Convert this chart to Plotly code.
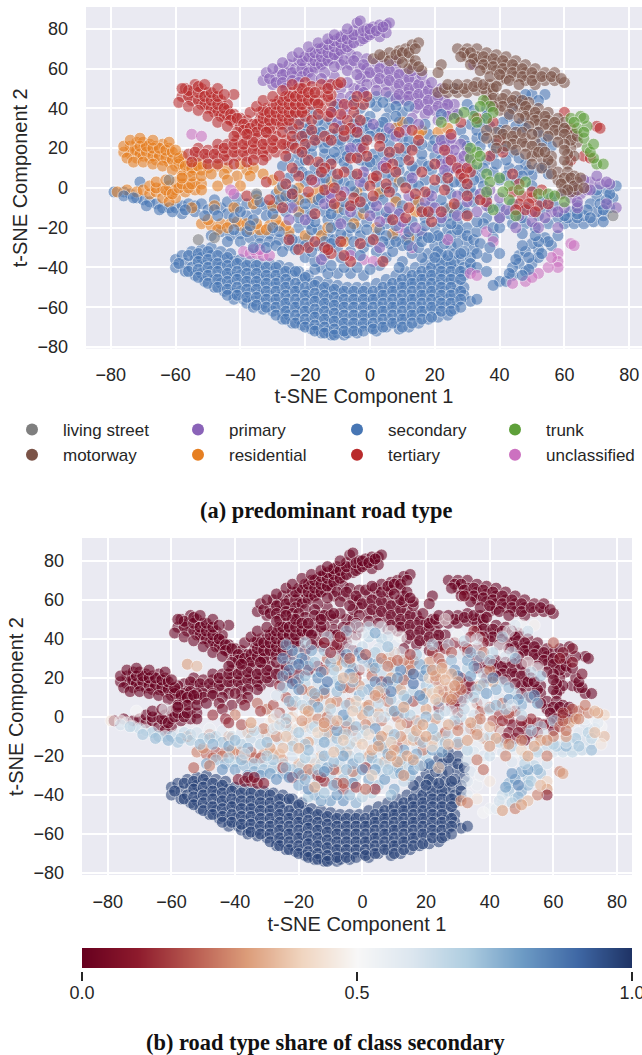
import plotly.graph_objects as go

W, H = 642, 1055
CLASS_COLORS = {"living street": "#7f7f7f", "motorway": "#7b5347", "primary": "#8a63b8", "residential": "#e67f22",
                "secondary": "#4776b4", "tertiary": "#b92b2c", "trunk": "#5ea03a", "unclassified": "#cc71c0"}
LEGEND_COLUMNS = [["living street", "motorway"], ["primary", "residential"], ["secondary", "tertiary"], ["trunk", "unclassified"]]
SHARE_SCALE = [[0, "#67001f"], [0.1, "#8d1a2c"], [0.2, "#b85a50"], [0.3, "#dc9d7a"], [0.4, "#f0d5c0"], [0.5, "#f7f7f7"],
               [0.6, "#dce6ef"], [0.7, "#aecde0"], [0.8, "#6d9bc5"], [0.9, "#3f68a5"], [1, "#1e3264"]]
CB_VALUES = [0, 0.1, 0.2, 0.3, 0.4, 0.5, 0.6, 0.7, 0.8, 0.9, 1]
CAPTIONS = ["(a) predominant road type", "(b) road type share of class secondary"]

# (x, y) of points whose share of class secondary is about 1
LOBE = [(-60,-36),(-60,-40),(-58,-34),(-57,-38),(-57,-42),(-55,-32),(-54,-36),(-55,-40),(-54,-44),(-52,-31),(-52,-35),(-51,-39),(-52,-43),(-51,-47),
(-49,-30),(-49,-34),(-48,-38),(-49,-42),(-48,-46),(-48,-50),(-46,-32),(-45,-36),(-46,-40),(-45,-44),(-46,-48),(-45,-52),(-43,-33),(-42,-37),(-43,-41),(-42,-45),(-43,-49),(-42,-53),(-42,-56),
(-40,-36),(-39,-40),(-40,-44),(-39,-48),(-40,-52),(-39,-56),(-38,-58),(-37,-37),(-36,-41),(-37,-45),(-36,-49),(-37,-53),(-36,-57),(-36,-60),(-34,-38),(-33,-42),(-34,-46),(-33,-50),(-34,-54),(-33,-58),(-33,-61),
(-31,-38),(-30,-42),(-31,-46),(-30,-50),(-31,-54),(-30,-58),(-30,-62),(-28,-39),(-27,-43),(-28,-47),(-27,-51),(-28,-55),(-27,-59),(-27,-63),(-27,-66),(-25,-40),(-24,-44),(-25,-48),(-24,-52),(-25,-56),(-24,-60),(-25,-64),(-24,-68),
(-22,-42),(-21,-46),(-22,-50),(-21,-54),(-22,-58),(-21,-62),(-22,-66),(-21,-69),(-19,-44),(-18,-48),(-19,-52),(-18,-56),(-19,-60),(-18,-64),(-19,-68),(-18,-71),(-16,-47),(-15,-51),(-16,-55),(-15,-59),(-16,-63),(-15,-67),(-16,-71),(-15,-73),
(-13,-48),(-12,-52),(-13,-56),(-12,-60),(-13,-64),(-12,-68),(-13,-72),(-12,-74),(-10,-49),(-9,-53),(-10,-57),(-9,-61),(-10,-65),(-9,-69),(-10,-73),(-8,-74),(-7,-50),(-6,-54),(-7,-58),(-6,-62),(-7,-66),(-6,-70),(-7,-73),
(-4,-50),(-3,-54),(-4,-58),(-3,-62),(-4,-66),(-3,-70),(-4,-73),(-1,-50),(0,-54),(-1,-58),(0,-62),(-1,-66),(0,-70),(2,-48),(3,-52),(2,-56),(3,-60),(2,-64),(3,-68),(2,-72),
(5,-46),(6,-50),(5,-54),(6,-58),(5,-62),(6,-66),(5,-70),(8,-44),(9,-48),(8,-52),(9,-56),(8,-60),(9,-64),(8,-68),(9,-71),(11,-42),(12,-46),(11,-50),(12,-54),(11,-58),(12,-62),(11,-66),(12,-70),
(14,-40),(15,-44),(14,-48),(15,-52),(14,-56),(15,-60),(14,-64),(15,-68),(17,-38),(18,-42),(17,-46),(18,-50),(17,-54),(18,-58),(17,-62),(18,-66),(20,-37),(21,-41),(20,-45),(21,-49),(20,-53),(21,-57),(20,-61),(21,-65),
(23,-36),(24,-40),(23,-44),(24,-48),(23,-52),(24,-56),(23,-60),(24,-64),(26,-37),(27,-41),(26,-45),(27,-49),(26,-53),(27,-57),(26,-61),(28,-36),(29,-40),(29,-44),(29,-50),(29,-54),(31,-41),(31,-57),(33,-56),
(18,-33),(20,-29),(22,-25),(24,-21),(25,-29),(28,-23),(22,-33),(26,-33),(30,-27),(32,-31),(31,-35),(19,-25),(16,-35),(27,-18),(30,-20)]

LOBE_FILL = [(-59,-38),(-56,-34),(-56,-42),(-53,-33),(-53,-37),(-53,-41),(-53,-45),(-50,-32),(-50,-36),(-50,-40),(-50,-44),(-50,-48),(-47,-34),(-47,-38),(-47,-42),(-47,-46),(-47,-50),
(-44,-35),(-44,-39),(-44,-43),(-44,-47),(-44,-51),(-44,-54),(-41,-38),(-41,-42),(-41,-46),(-41,-50),(-41,-54),(-38,-39),(-38,-43),(-38,-47),(-38,-51),(-38,-55),(-35,-39),(-35,-43),(-35,-47),(-35,-51),(-35,-55),(-35,-59),
(-32,-40),(-32,-44),(-32,-48),(-32,-52),(-32,-56),(-32,-60),(-29,-40),(-29,-44),(-29,-48),(-29,-52),(-29,-56),(-29,-60),(-29,-64),(-26,-42),(-26,-46),(-26,-50),(-26,-54),(-26,-58),(-26,-62),(-26,-66),
(-23,-42),(-23,-48),(-23,-52),(-23,-56),(-23,-60),(-23,-64),(-23,-68),(-20,-45),(-20,-50),(-20,-54),(-20,-58),(-20,-62),(-20,-66),(-20,-70),(-17,-49),(-17,-53),(-17,-57),(-17,-61),(-17,-65),(-17,-69),(-17,-72),
(-14,-50),(-14,-54),(-14,-58),(-14,-62),(-14,-66),(-14,-70),(-14,-73),(-11,-51),(-11,-55),(-11,-59),(-11,-63),(-11,-67),(-11,-71),(-11,-74),(-8,-52),(-8,-56),(-8,-60),(-8,-64),(-8,-68),(-8,-72),
(-5,-52),(-5,-56),(-5,-60),(-5,-64),(-5,-68),(-5,-72),(-2,-52),(-2,-56),(-2,-60),(-2,-64),(-2,-68),(-2,-72),(1,-52),(1,-56),(1,-60),(1,-64),(1,-68),(1,-71),(4,-50),(4,-54),(4,-58),(4,-62),(4,-66),(4,-70),
(7,-48),(7,-52),(7,-56),(7,-60),(7,-64),(7,-68),(10,-46),(10,-50),(10,-54),(10,-58),(10,-62),(10,-66),(10,-70),(13,-44),(13,-48),(13,-52),(13,-56),(13,-60),(13,-64),(13,-68),(16,-42),(16,-46),(16,-50),(16,-54),(16,-58),(16,-62),(16,-66),
(19,-40),(19,-44),(19,-48),(19,-52),(19,-56),(19,-60),(19,-65),(22,-38),(22,-42),(22,-46),(22,-50),(22,-54),(22,-58),(22,-62),(25,-38),(25,-42),(25,-46),(25,-50),(25,-54),(25,-58),(25,-62),(28,-42),(28,-46),(28,-52),(28,-56),(28,-60),
(21,-32),(23,-28),(25,-24),(27,-28),(29,-32),(30,-24),(24,-34),(20,-35),(27,-21),(32,-26),(31,-38),(28,-33)]

PRIMARY_PURE = [(-33,54),(-32,58),(-30,52),(-29,56),(-28,60),(-26,54),(-26,58),(-25,62),(-23,56),(-23,60),(-22,64),(-20,58),(-20,62),(-20,66),(-18,60),(-18,64),(-18,68),(-16,62),(-16,66),(-16,70),(-14,63),(-14,67),(-14,71),(-12,65),(-12,69),(-12,73),(-10,68),(-10,72),(-10,75),(-8,70),(-8,74),(-8,77),(-6,72),(-6,76),(-5,79),(-3,74),(-3,78),(-4,83),(-3,84),(-1,76),(-1,80),(1,78),(1,81),(3,76),(3,80),(3,82),(5,82),(6,83),(5,78),
(-10,66),(-9,62),(-6,67),(-6,62),(-4,66),(-3,60),(-1,65),(-1,60),(-1,56),(2,63),(2,58),(2,53),(5,62),(5,57),(5,52),(8,60),(8,55),(8,50),(11,58),(11,53),(11,48),(14,55),(14,50),(14,45),(17,52),(17,47),(17,42),(20,48),(20,44),(20,39),(23,44),(23,40),(25,37),(26,42),(11,44),(14,40),(8,45),(-13,52),(-9,50),(-9,45),(-5,50),(17,37),(21,34),(13,35),
(-31,55),(-29,53),(-27,57),(-27,53),(-24,58),(-24,54),(-21,60),(-21,56),(-21,64),(-19,58),(-19,66),(-17,60),(-17,64),(-17,68),(-15,62),(-15,66),(-15,70),(-13,64),(-13,68),(-13,72),(-11,67),(-11,71),(-11,74),(-9,69),(-9,73),(-9,76),(-7,71),(-7,75),(-5,73),(-5,77),(-2,75),(-2,79),(0,77),(0,80),(2,79),(4,81),(-8,64),(-5,64),(-2,62),(0,58),(3,60),(3,55),(6,59),(6,54),(9,57),(9,52),(9,47),(12,55),(12,50),(12,46),(15,52),(15,47),(15,42),(18,49),(18,44),(18,39),(21,46),(21,41),(24,42),(-3,50),(-11,56),(-7,53),(-3,55),
(-30,60),(-27,63),(-24,66),(-22,68),(-19,71),(-16,73),(-13,75),(-11,77),(-26,50),(-22,53),(-18,55),(-14,58),(-11,61),(-7,59),(-4,57),(-1,52),(2,49),(5,48),(-15,55),(-6,46),(-10,42),(-2,48),(16,57),(19,53),(22,50),(13,59),(8,64),(-7,80),(24,36),(27,37)]

MOTORWAY_PURE = [(1,65),(4,66),(6,68),(9,69),(11,70),(13,72),(15,73),(6,64),(9,65),(12,66),(13,62),(16,59),(12,60),
(27,70),(30,70),(30,66),(33,70),(33,66),(33,63),(36,68),(36,64),(36,60),(39,67),(39,63),(39,59),(42,66),(42,62),(42,58),(45,64),(45,60),(45,56),(48,62),(48,58),(48,54),(51,60),(51,56),(54,58),(54,54),(57,54),(57,58),(60,53),(51,52),
(21,48),(24,48),(27,48),(30,48),(33,49),(35,50),(37,52),(40,54),(42,55),(33,53),(30,52),(36,48),(22,62),(21,58),
(36,44),(38,47),(40,43),(40,39),(42,47),(43,43),(45,46),(46,42),(47,38),(49,43),(49,39),(50,35),(52,40),(52,36),(52,32),(55,38),(55,34),(55,30),(58,35),(58,31),(58,27),(60,33),(61,29),(61,25),(63,27),(64,23),(62,20),(63,16),(61,12),
(39,28),(42,29),(42,25),(45,28),(45,24),(48,25),(48,21),(51,23),(51,18),(53,20),(53,15),(56,16),(56,12),(58,8),(61,8),(63,6),(58,4),(61,3),(64,3),(60,0),(62,-2),(64,-1),(36,29),
(3,67),(8,67),(10,68),(12,68),(14,70),(10,63),(14,64),(15,61),(29,68),(31,68),(32,65),(35,66),(35,62),(38,65),(38,61),(41,64),(41,60),(44,62),(44,58),(47,60),(47,56),(50,58),(50,54),(53,56),(56,56),(59,55),
(23,50),(26,50),(29,50),(32,51),(35,52),(38,50),(38,45),(41,45),(41,41),(44,44),(44,40),(47,44),(48,41),(48,36),(51,38),(51,34),(54,36),(54,32),(57,33),(57,29),(60,30),(60,27),(62,24),(64,26),(60,22),(61,17),(60,14),
(41,27),(44,26),(44,22),(47,23),(50,21),(50,16),(52,18),(55,14),(54,18),(60,5),(62,5),(59,2),(63,1),(61,-1),
(28,66),(31,62),(34,59),(37,56),(40,57),(43,54),(46,52),(24,52),(27,52),(39,51),(38,41),(43,37),(46,35),(49,31),(52,28),(55,26),(58,23),(60,19),(47,28),(50,27),(39,24),(42,21),(45,19),(48,17),(50,12),(53,10),(56,7),(59,-3),(65,5),(66,0),(36,25),(39,20)]

TERTIARY_PURE = [(-58,46),(-57,50),(-55,44),(-55,48),(-54,52),(-52,42),(-52,46),(-52,50),(-50,40),(-50,44),(-50,48),(-48,38),(-48,42),(-48,46),(-46,36),(-46,40),(-46,44),(-44,35),(-44,39),(-44,42),(-42,33),(-42,37),(-40,31),(-40,35),(-38,30),(-38,34),(-38,27),(-36,28),(-36,32),(-42,47),
(-34,30),(-34,34),(-34,38),(-32,28),(-32,32),(-32,36),(-32,40),(-30,30),(-30,34),(-30,38),(-30,42),(-28,32),(-28,36),(-28,40),(-28,44),(-26,34),(-26,38),(-26,42),(-26,46),(-24,30),(-24,36),(-24,40),(-24,44),(-24,48),(-22,32),(-22,38),(-22,42),(-22,46),(-22,50),(-20,36),(-20,40),(-20,44),(-20,48),(-20,53),(-18,34),(-18,42),(-18,46),(-18,51),(-15,40),(-15,44),(-15,48),(-15,52),(-12,43),(-12,47),(-12,52),(-10,52),(-9,53),(-8,42),(-5,38),(-2,42),(-3,34),(-7,34),(-6,30),
(-56,17),(-53,16),(-53,20),(-50,15),(-50,19),(-47,15),(-47,19),(-47,22),(-44,14),(-44,18),(-44,22),(-41,16),(-41,20),(-41,24),(-38,16),(-38,20),(-38,24),(-35,17),(-35,21),(-35,25),(-32,16),(-32,20),(-32,24),(-29,18),(-29,22),(-29,26),(-26,20),(-26,24),(70,31),(71,30),(62,14),(66,16),(68,15),
(-56,46),(-56,49),(-53,44),(-53,48),(-53,51),(-51,42),(-51,46),(-49,40),(-49,44),(-49,48),(-47,38),(-47,42),(-47,46),(-45,36),(-45,40),(-43,37),(-43,34),(-41,35),(-39,32),(-39,29),(-37,30),(-35,32),(-35,28),(-33,31),(-33,35),(-33,39),(-31,30),(-31,34),(-31,38),(-29,34),(-29,38),(-29,42),(-27,32),(-27,36),(-27,40),(-27,44),(-25,34),(-25,38),(-25,42),(-25,46),(-23,38),(-23,42),(-23,46),(-21,38),(-21,42),(-21,46),(-21,50),(-19,44),(-19,48),(-17,44),(-17,48),(-16,42),(-13,46),(-13,50),
(-54,18),(-51,17),(-48,17),(-45,16),(-45,20),(-42,18),(-42,22),(-39,18),(-39,22),(-36,19),(-36,23),(-33,18),(-33,22),(-30,20),(-30,24),(-27,22),(-33,14),(-27,28),
(-59,43),(-56,41),(-53,39),(-50,36),(-47,33),(-44,31),(-41,28),(-58,50),(-51,52),(-47,50),(-45,47),(-37,38),(-35,41),(-33,44),(-30,46),(-27,49),(-24,52),(-55,13),(-50,12),(-47,12),(-42,12),(-38,13),(-36,14),(-42,26),(-38,27),(-32,28),(-24,22),(-24,26),(-21,26),(-18,29),(-13,36),(-9,37),(-16,37),(-12,38),(-5,42),(-1,46),(-4,46)]

RESIDENTIAL_PURE = [(-74,17),(-74,21),(-72,15),(-72,19),(-72,23),(-70,16),(-70,20),(-70,23),(-68,15),(-68,19),(-68,22),(-66,14),(-66,18),(-66,21),(-64,14),(-64,18),(-64,22),(-62,13),(-62,17),(-62,20),(-60,11),(-60,15),(-58,9),(-58,13),(-58,16),(-56,8),(-56,12),(-54,9),(-54,13),(-52,9),(-52,12),(-50,10),(-47,11),(-44,10),
(-75,-1),(-72,-2),(-70,-1),(-68,-3),(-68,1),(-66,-2),(-64,-5),(-64,0),(-62,-3),(-62,1),(-60,-5),(-60,-1),(-60,3),(-57,-2),(-57,2),(-54,-1),(-54,3),(-62,-7),
(-73,19),(-71,17),(-71,21),(-69,18),(-69,21),(-67,16),(-67,20),(-65,16),(-65,20),(-63,15),(-63,19),(-61,14),(-61,18),(-59,12),(-59,15),(-57,11),(-55,10),(-53,11),(-66,0),(-63,-1),(-61,-3),(-59,0),(-58,2),(-56,0),(-55,2),(-52,2),
(-76,18),(-75,15),(-73,13),(-70,13),(-67,12),(-64,11),(-61,9),(-58,6),(-55,6),(-52,6),(-49,7),(-76,21),(-74,24),(-71,25),(-67,24),(-62,23),(-60,19),(-78,-2),(-66,3),(-63,4),(-58,5),(-52,-1)]

TRUNK_PURE = [(70,12),(72,12),(69,15),(67,20),(68,18),(66,25),(64,30),(62,35),(65,36),(67,31)]

# (x, y, share in percent)
SECONDARY_MIX = [(-79,-2,45),(-76,-2,50),(-74,-3,55),(-72,-5,60),(-70,-6,65),(-68,-7,60),(-66,-8,70),(-64,-10,70),(-62,-10,65),(-60,-10,72),(-58,-9,60),(-56,-8,65),(-54,-9,68),(-58,-13,72),(-54,-12,70),(-71,3,50),
(-52,-8,62),(-50,-11,68),(-48,-6,55),(-46,-10,70),(-44,-13,72),(-44,-7,58),(-41,-5,52),(-41,-10,64),(-38,-14,70),(-38,-8,60),(-35,-4,50),(-35,-11,66),(-32,-9,62),(-32,-14,68),(-29,-3,48),(-29,-10,58),(-26,-12,64),(-26,-7,55),(-23,-2,50),(-23,-9,60),(-20,-12,62),(-20,-5,52),(-17,-9,58),(-14,-3,50),(-14,-12,65),
(-46,-22,72),(-43,-24,76),(-40,-23,70),(-40,-27,80),(-37,-25,74),(-34,-24,72),(-34,-28,78),(-31,-23,68),(-31,-27,74),(-28,-26,72),(-25,-24,66),(-25,-29,78),(-22,-20,62),(-22,-27,72),(-19,-18,58),(-19,-25,66),(-16,-21,62),(-16,-29,74),(-13,-16,60),(-13,-24,65),(-10,-19,60),(-10,-14,62),(-7,-16,70),(-7,-24,66),(-4,-14,68),(-4,-20,66),(-1,-17,60),(2,-13,58),(2,-24,64),(5,-18,62),(8,-24,66),(11,-20,60),(14,-25,68),(17,-15,62),(20,-20,70),(24,-14,66),
(-15,-40,78),(-10,-43,80),(-6,-43,82),(-2,-44,76),(-17,-41,70),(-13,-43,78),(3,-39,70),(5,-35,72),(10,-37,78),(13,-33,66),(2,-32,78),(-2,-30,70),(6,-28,64),(10,-29,70),(-6,-32,72),(-10,-30,68),(-14,-34,70),(33,-22,62),(34,-28,60),(36,-35,55),(33,-40,58),(36,-15,55),(38,-25,50),(35,-18,60),
(-2,47,62),(2,46,66),(6,46,60),(9,44,55),(-3,40,55),(2,41,68),(6,40,70),(10,38,58),(-4,35,60),(0,36,65),(5,35,62),(9,33,58),(-2,30,55),(3,31,60),(-20,33,72),(-22,28,75),(-17,29,68),(-14,32,60),(-20,24,66),(-16,23,70),(-12,27,62),(-10,22,60),(-18,17,68),(-14,17,62),(-10,15,58),(-6,19,64),(-6,25,58),(-2,23,62),(-22,12,60),(-17,10,64),(-12,8,60),(-7,10,56),(-3,14,58),(1,17,60),(2,9,56),(6,22,66),(10,25,70),(14,21,75),(18,27,78),(11,16,72),(16,13,68),(20,16,72),(7,5,60),(12,6,62),(17,4,58),(22,5,56),(-25,5,55),(-20,3,52),(-14,2,56),(-8,3,58),(-2,1,54),(3,-3,56),(8,-5,52),(14,-6,58),(19,-8,52),(25,-3,56),(29,-10,52),(32,-3,56),
(27,37,64),(31,32,60),(36,36,58),(43,36,55),(47,33,66),(33,25,68),(38,22,64),(44,18,70),(48,12,68),(52,10,72),(43,10,60),(38,8,58),(34,5,50),(55,25,55),(52,28,50),(46,44,56),(50,47,52),(54,47,48),(30,42,52),(26,50,50),(36,40,58),
(60,-18,62),(63,-18,65),(66,-18,68),(69,-17,65),(72,-14,62),(74,-10,58),(75,-5,50),(73,-1,55),(70,-4,60),(68,-8,60),(70,-12,62),(66,-14,62),(76,1,40),(62,-12,55),(40,-15,56),(44,-18,60),(48,-18,55),(52,-14,60),(54,-10,62),(56,-5,68),(48,-10,50),(44,-8,55),
(54,-25,68),(58,-24,62),(56,-29,72),(52,-31,72),(50,-28,78),(46,-34,75),(46,-38,72),(48,-42,68),(44,-44,60),(50,-38,78),(52,-35,75),(48,-32,80),(44,-40,65),(40,-47,55),(38,-49,50),(42,-47,58)]

SECONDARY_FILL = [(-76,-4,62),(-73,-5,68),(-69,-9,72),(-65,-11,74),(-61,-12,76),(-57,-11,72),(-51,-14,74),(-48,-11,70),(-47,-14,76),(-42,-15,78),(-40,-12,74),(-36,-16,76),(-34,-7,66),(-30,-13,74),(-28,-6,62),(-24,-5,66),(-22,-15,70),(-18,-14,72),(-16,-6,62),(-12,-9,68),(-8,-11,74),(-5,-9,70),(0,-10,66),
(-49,-24,78),(-44,-27,82),(-38,-22,74),(-36,-30,84),(-32,-30,82),(-29,-29,80),(-28,-22,72),(-24,-26,74),(-23,-31,84),(-20,-29,80),(-18,-21,70),(-14,-27,72),(-12,-20,76),(-11,-26,78),(-9,-23,74),(-6,-20,80),(-3,-24,78),(-1,-21,72),(0,-27,82),(3,-21,76),(5,-24,70),(6,-15,74),(8,-19,78),(9,-12,66),(11,-26,76),(13,-17,80),(16,-23,82),(17,-19,78),(19,-13,72),(21,-24,84),(22,-17,80),(23,-10,70),(26,-13,72),
(-20,-35,78),(-17,-37,84),(-12,-39,72),(-8,-40,80),(-4,-40,74),(0,-41,68),(-9,-35,78),(-3,-34,84),(7,-32,80),(9,-40,72),(12,-29,78),(15,-30,74),(16,-27,80),(33,-33,60),(37,-30,55),(36,-42,45),(38,-20,60),(33,-17,68),(30,-13,72),(40,-33,45),(37,-10,60),
(-22,34,82),(-19,30,85),(-16,34,78),(-23,24,84),(-20,19,80),(-17,26,80),(-14,20,84),(-12,34,72),(-10,28,78),(-8,19,70),(-5,28,74),(-3,25,76),(-1,33,80),(2,28,82),(5,28,78),(-25,15,72),(-21,8,70),(-16,6,72),(-12,14,84),(-8,13,74),(-5,6,72),(-1,11,78),(2,14,80),(4,18,84),(8,18,88),(12,24,86),(16,17,90),(19,21,84),(14,9,80),(19,9,78),(9,9,72),(5,7,66),(-10,-1,66),(-5,-2,72),(1,-7,70),(7,0,66),(13,2,74),(18,-3,66),(24,1,72),(28,3,60),(31,0,66),
(28,29,74),(33,29,78),(37,31,72),(41,33,68),(45,31,60),(29,24,82),(34,21,80),(38,17,72),(42,14,76),(46,9,82),(50,6,76),(40,4,70),(35,1,62),(32,9,66),(36,14,72),(48,30,74),(54,11,84),(55,7,78),(45,4,72),(50,1,66),(53,-7,72),(40,-10,66),
(61,-15,72),(64,-15,76),(67,-11,72),(71,-8,70),(73,-6,62),(72,-17,74),(64,-9,60),(58,-15,66),(55,-18,70),(51,-20,64),(47,-15,70),(43,-13,66),
(55,-27,76),(52,-27,80),(49,-35,85),(47,-29,82),(45,-36,80),(49,-41,75),(47,-44,68),(53,-33,70),(43,-43,62),
(-24,37,78),(-18,38,70),(-11,41,66),(-5,44,72),(0,43,58),(4,43,78),(8,41,62),(12,41,52),(-25,30,82),(-20,27,86),(-15,28,72),(-9,31,64),(-5,32,80),(0,30,84),(4,33,70),(8,36,74),(12,33,60),(17,32,72),(22,37,68),
(-25,21,78),(-22,17,88),(-18,21,74),(-13,23,82),(-9,24,70),(-4,22,84),(0,26,60),(4,25,76),(7,27,66),(11,20,82),(16,22,92),(20,24,80),(23,24,70),(-27,11,60),(-23,8,74),(-20,14,82),(-15,12,76),(-11,18,88),(-7,16,80),(-3,18,74),(0,13,66),(6,15,74),(9,13,86),(13,11,70),(18,11,84),(22,14,66),(24,8,74),
(-27,1,58),(-24,-1,70),(-19,6,66),(-14,5,78),(-10,4,68),(-6,1,82),(-2,5,70),(2,3,74),(5,0,62),(10,3,80),(15,1,68),(20,0,76),(26,3,64),(29,-2,70),(-26,-4,64),(-20,-8,72),(-15,-5,68),(-8,-7,80),(-2,-5,74),(4,-6,82),(10,-9,74),(16,-10,68),(22,-6,74),(27,-9,66),(32,-7,58),
(-17,-17,74),(-12,-13,78),(-2,-10,62),(5,-12,80),(12,-22,74),(18,-25,66),(25,-18,78),(8,-27,72),(4,-27,80),(-5,-27,74),(-12,-28,82),(-18,-32,76),(-27,-32,82),(-42,-21,70),(-37,-19,64),(-30,-20,70),
(32,39,66),(40,29,70),(44,41,70),(48,47,60),(52,44,64),(34,33,76),(30,21,84),(35,26,78),(41,20,84),(46,15,74),(49,9,80),(39,12,80),(35,10,70),(32,4,66),(42,6,74),(56,21,72),(53,23,66),(47,6,60),
(60,-14,68),(64,-13,64),(68,-15,72),(72,-11,66),(74,-3,58),(70,-1,54),(57,-9,60),(60,-2,70),(51,-24,68),(47,-23,60),(40,-20,64),(36,-4,62)]

TERTIARY_MIX = [(-23,20,8),(-20,22,5),(-17,24,6),(-14,26,10),(-11,30,22),(-8,26,30),(-16,13,28),(-12,12,25),(-22,6,22),(-28,6,18),(-32,3,15),(-18,4,30),(-8,8,26),(-4,7,24),(-2,20,18),(3,25,28),(1,5,30),(7,12,20),(-38,-4,18),(-31,-6,25),(-11,-8,28),(-5,-5,22),(5,2,30),(11,0,24),(17,-2,26),(11,-15,22),(16,-12,35),(-19,-30,20),(-12,-33,12),(-17,-27,25),(-6,-37,15),(15,24,25),(20,4,30),(25,14,15),(27,10,12),(28,7,8),(31,8,8),(47,-4,5),(46,-8,5),(48,-11,6),(52,-9,5),(50,-5,6),(44,-2,12),(36,-7,30),(30,-14,25),(22,-12,28),(12,14,32),(41,18,30),(33,35,12),(60,38,20),(62,30,8),
(-26,16,10),(-24,10,18),(-19,14,22),(-14,10,28),(-10,7,30),(-6,15,24),(-4,28,26),(-1,16,28),(3,21,22),(5,10,26),(9,20,30),(13,29,25),(-26,2,18),(-14,-1,26),(-9,-4,22),(0,1,30),(6,-2,24),(-25,-26,16),(-22,-31,10),(-14,-30,14),(-8,-34,18),(4,-37,12),(12,-10,28),(19,-17,24),(26,-8,20),(29,5,6),(30,2,14),(49,-8,4),(51,-12,5),(45,-11,8),(46,2,20),(53,-1,12),(40,24,26),(25,27,22),
(-21,18,16),(-15,8,24),(-12,24,18),(-8,29,30),(-4,15,22),(-1,24,16),(2,6,28),(6,18,14),(9,28,26),(13,19,22),(16,8,18),(20,12,30),(23,19,10),(-24,-3,24),(-19,-2,28),(-11,0,22),(-6,-9,30),(1,-4,26),(8,8,24),(14,-3,20),(23,-1,28),(-27,-10,26),(-17,-13,30),(-3,-7,24),(7,-16,32),(18,-12,26),(-13,-31,12),(-9,-27,18),(-3,-28,24),(1,-26,14),(24,5,12),(30,10,5),(30,-4,18),(34,-6,24),(44,7,22),(50,-2,8),(55,-8,6),(37,16,28),(28,33,18),(38,33,22)]

PRIMARY_MIX = [(-12,38,10),(-8,37,8),(-4,30,20),(6,30,24),(11,29,22),(15,32,15),(25,22,35),(28,22,32),(30,18,30),(27,15,35),(24,17,38),(22,12,40),(26,10,30),(29,12,28),(31,14,24),(21,20,40),(-3,20,35),(-2,8,40),(5,13,35),(-14,-8,40),(-6,-12,38),(2,-9,42),(9,-13,38),(17,-7,30),(22,-15,42),(14,-20,30),(27,-4,32),(33,-12,30),(37,-1,25),(40,-5,35),(46,-14,28),(50,-17,40),(56,-12,30),(60,-10,25),(64,-10,28),(62,-5,20),(65,-3,30),(68,3,22),(71,2,25),(66,4,20),(74,2,30),(76,-10,35),(52,-20,30),(45,-20,25),(36,-9,28),(-25,-16,35),(3,-30,40),(-15,-36,32),(-12,-5,30),(32,62,5),
(23,21,30),(26,19,34),(29,16,28),(24,13,36),(28,9,30),(-7,41,8),(-10,33,10),(1,32,18),(8,26,24),(-12,-3,28),(3,-17,32),(6,-10,30),(12,-4,36),(20,-10,30),(30,-7,26),(42,-11,30),(50,-12,28),(58,-20,24),(64,-7,24),(67,-1,30),(70,6,24),(73,3,35),(58,-12,28),
(-17,3,30),(-8,-2,34),(-3,3,38),(4,11,28),(13,5,30),(22,24,28),(25,25,32),(23,9,36),(19,-4,30),(-24,-10,36),(-9,-18,36),(0,-14,38),(10,-17,32),(27,-14,34),(40,-15,28),(34,-3,30),(-6,20,34),(-20,-16,32),(54,-15,30),(63,-2,22),(68,-1,26),(63,2,15),(73,-8,35)]

RESIDENTIAL_MIX = [(-52,-18,25),(-49,-19,20),(-46,-18,18),(-43,-18,22),(-40,-19,20),(-37,-21,25),(-34,-21,20),(-31,-19,28),(-28,-19,30),(-25,-22,26),(-20,-24,32),(-15,-24,35),(-45,7,2),(-41,6,2),(-38,9,1),(-36,10,2),(-30,4,25),(-27,-5,32),(-22,-6,35),(-42,-10,28),(-36,-8,30),(-48,-9,22),(-18,-5,30),(-10,-10,38),(-5,-18,32),(-8,-27,36),(8,-7,30),(15,-7,35),(2,-20,30),(8,30,30),(15,27,24),(21,28,28),(24,30,20),(-55,-10,25),(-12,3,35),(-4,-2,38),(12,-25,40),
(-50,-16,28),(-47,-21,22),(-44,-20,24),(-41,-17,30),(-38,-18,26),(-35,-18,22),(-32,-21,18),(-29,-16,30),(-26,-19,35),(-33,7,22),(-28,-1,30),(-40,1,25),(-47,1,12),(-44,4,4),(-40,12,2),(-37,6,6),(-22,0,35),(-16,-1,32),(-2,-13,36),(9,3,34),(25,-10,30),
(-35,-6,26),(-30,-9,30),(-22,-12,34),(-13,-20,36),(7,-23,32),(14,-12,34),(3,-2,30),(10,33,28),(16,29,24)]

TRUNK_MIX = [(35,44,12),(37,41,8),(38,38,8),(36,35,10),(32,36,10),(29,38,8),(26,35,12),(22,33,15),(33,18,5),(31,15,8),(33,12,5),(36,7,18),(37,3,20),(43,1,15),(40,5,20),(36,-2,25),(46,-1,12),(52,-3,8),(55,-3,5),(60,-7,3),(38,-11,28),(45,-14,30),(43,-6,20),(66,35,4),(66,28,8),(34,41,10),(33,33,12),(31,20,6),(34,16,6),(41,-2,18),(48,3,14),(57,-4,8),(69,22,3),(63,33,5)]

UNCLASSIFIED_MIX = [(-39,-32,4),(-37,-33,4),(-35,-33,5),(-33,-34,6),(-31,-34,8),(-55,27,30),(-52,26,35),(-43,-1,10),(-42,-3,12),(-6,-34,20),(-2,-36,15),(1,-37,22),(11,-23,30),(16,-22,32),(24,-26,38),(13,-30,28),(36,-22,24),(38,-27,22),(31,-43,28),(33,-44,26),(58,-33,40),(58,-37,30),(58,-40,8),(55,-40,25),(52,-43,35),(48,-47,25),(44,-48,30),(62,-28,25),(63,-29,30),(5,-15,30),(-36,-31,5),(-34,-31,6),(56,-35,35),(50,-45,30),(9,-20,30)]

LIVING_MIX = [(-53,-26,20),(-48,-25,25),(-62,4,55),(-35,-3,30),(75,-14,45)]

MARKER_SIZE = 12
MARKER_ALPHA = 0.58


def pts(rows):
    return [r[0] for r in rows], [r[1] for r in rows]


CLASS_ROWS = [
    ("secondary", LOBE + LOBE_FILL + SECONDARY_MIX),
    ("residential", RESIDENTIAL_PURE + RESIDENTIAL_MIX),
    ("unclassified", UNCLASSIFIED_MIX),
    ("primary", PRIMARY_PURE),
    ("secondary", SECONDARY_FILL),
    ("primary", PRIMARY_MIX),
    ("tertiary", TERTIARY_PURE + TERTIARY_MIX),
    ("motorway", MOTORWAY_PURE),
    ("trunk", TRUNK_PURE + TRUNK_MIX),
    ("living street", LIVING_MIX),
]

fig = go.Figure()
for name, rows in CLASS_ROWS:
    x, y = pts(rows)
    fig.add_trace(go.Scatter(x=x, y=y, mode="markers", xaxis="x", yaxis="y", showlegend=False, name=name,
                             marker=dict(size=MARKER_SIZE, color=CLASS_COLORS[name], opacity=MARKER_ALPHA,
                                         line=dict(color="white", width=0.8))))
for i, column in enumerate(LEGEND_COLUMNS):
    for name in column:
        fig.add_trace(go.Scatter(x=[None], y=[None], mode="markers", xaxis="x", yaxis="y", name=name,
                                 legend="legend" if i == 0 else "legend%d" % (i + 1),
                                 marker=dict(size=12, color=CLASS_COLORS[name])))

all_rows = [(r, 0.97) for r in LOBE + LOBE_FILL]
for group in (PRIMARY_PURE, TERTIARY_PURE, MOTORWAY_PURE, RESIDENTIAL_PURE, TRUNK_PURE):
    all_rows += [(r, 0.0) for r in group]
for group in (TRUNK_MIX, RESIDENTIAL_MIX, SECONDARY_MIX, TERTIARY_MIX, SECONDARY_FILL, PRIMARY_MIX, UNCLASSIFIED_MIX, LIVING_MIX):
    all_rows += [(r, r[2] / 100) for r in group]
fig.add_trace(go.Scatter(
    x=[r[0][0] for r in all_rows], y=[r[0][1] for r in all_rows], mode="markers", xaxis="x2", yaxis="y2", showlegend=False,
    name="share of secondary",
    marker=dict(size=MARKER_SIZE, color=[r[1] for r in all_rows], colorscale=SHARE_SCALE, cmin=0, cmax=1, opacity=MARKER_ALPHA,
                line=dict(color="white", width=0.8))))
fig.add_trace(go.Heatmap(x=CB_VALUES, y=[0, 1], z=[CB_VALUES, CB_VALUES], xaxis="x3", yaxis="y3", zsmooth="best",
                         colorscale=SHARE_SCALE, zmin=0, zmax=1, showscale=False, hoverinfo="skip"))

FONT = "Liberation Sans"
TC = "#262626"


def dx(a, b):
    return [a / W, b / W]


def dy(top_px, bottom_px):
    return [(H - bottom_px) / H, (H - top_px) / H]


def axis(title, standoff, labelgap, **kw):
    return dict(title=dict(text=title, font=dict(family=FONT, size=20, color=TC), standoff=standoff),
                showgrid=True, gridcolor="white", gridwidth=1.6, zeroline=False, showline=False, ticks="",
                tickfont=dict(family=FONT, size=18, color=TC), tickvals=[-80, -60, -40, -20, 0, 20, 40, 60, 80],
                ticklabelstandoff=labelgap, ticklabeloverflow="allow", automargin=False, **kw)


def legend_box(left_px):
    return dict(orientation="v", x=left_px / W, xanchor="left", y=(H - 412) / H, yanchor="top", itemsizing="constant",
                itemwidth=52, bgcolor="rgba(0,0,0,0)", font=dict(family=FONT, size=17, color=TC), traceorder="normal")


fig.update_layout(
    width=W, height=H, autosize=False, margin=dict(l=0, r=0, t=0, b=0, autoexpand=False),
    paper_bgcolor="white", plot_bgcolor="#eaeaf2", hovermode=False,
    font=dict(family=FONT, color=TC),
    xaxis=axis("t-SNE Component 1", 5, 13, domain=dx(86, 642), range=[-87.65, 83.95], anchor="y"),
    yaxis=axis("t-SNE Component 2", 4, 17, domain=dy(7, 348.5), range=[-80.75, 91], anchor="x"),
    xaxis2=axis("t-SNE Component 1", 5, 14, domain=dx(82, 632), range=[-88.1, 84.7], anchor="y2"),
    yaxis2=axis("t-SNE Component 2", 4, 17, domain=dy(538, 875), range=[-81, 91.7], anchor="x2"),
    xaxis3=dict(domain=dx(82, 632), range=[0, 1], anchor="free", position=(H - 971) / H, tickvals=[0, 0.5, 1],
                ticktext=["0.0", "0.5", "1.0"], ticks="outside", ticklen=9, tickwidth=1.5, tickcolor=TC, showgrid=False,
                zeroline=False, showline=False, ticklabelstandoff=-4, ticklabeloverflow="allow",
                tickfont=dict(family=FONT, size=18, color=TC)),
    yaxis3=dict(domain=dy(948, 968), range=[0, 1], anchor="x3", visible=False),
    legend=legend_box(1), legend2=legend_box(167), legend3=legend_box(326), legend4=legend_box(484),
    annotations=[
        dict(text="<b>%s</b>" % CAPTIONS[0], xref="paper", yref="paper", x=326 / W, y=(H - 510) / H, yanchor="middle",
             showarrow=False, font=dict(family="Liberation Serif", size=22.4, color="#111111")),
        dict(text="<b>%s</b>" % CAPTIONS[1], xref="paper", yref="paper", x=326 / W, y=(H - 1042) / H, yanchor="middle",
             showarrow=False, font=dict(family="Liberation Serif", size=22.4, color="#111111")),
    ],
)
fig.write_html("out.html", config={"displayModeBar": False},
               post_script="document.body.style.margin='0';document.body.style.overflow='hidden';")
